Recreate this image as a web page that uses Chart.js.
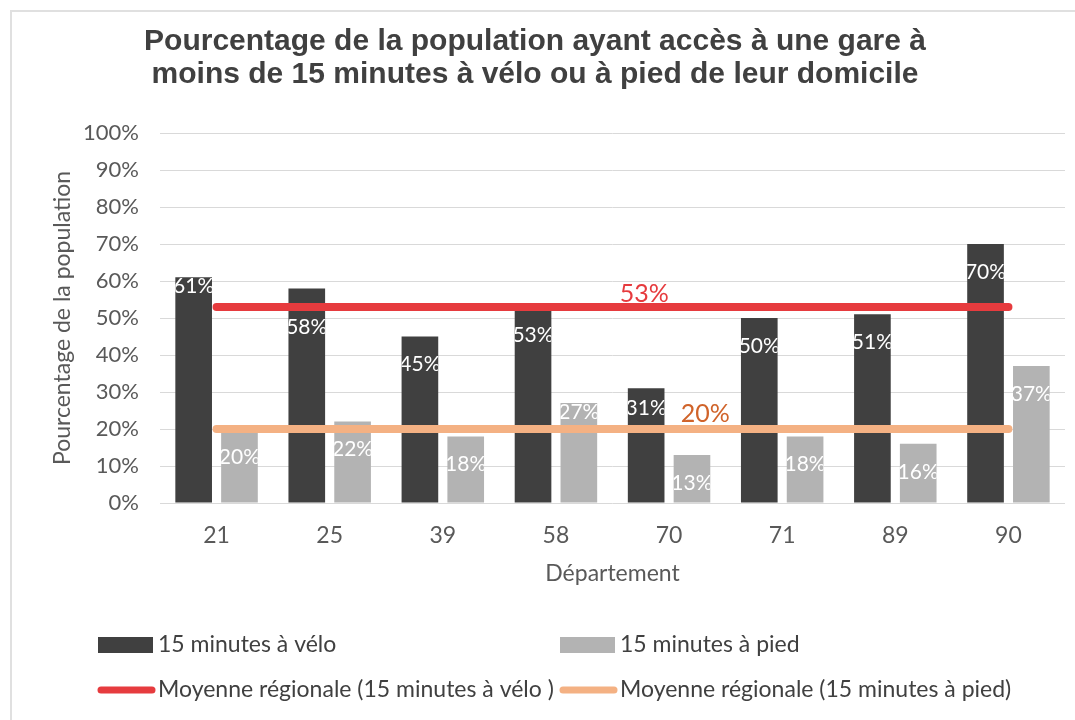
<!DOCTYPE html>
<html><head><meta charset="utf-8">
<script src="https://cdn.jsdelivr.net/npm/chart.js@4.4.1/dist/chart.umd.min.js"></script>
<style>html,body{margin:0;padding:0;background:#fff;} canvas{display:block;}</style>
</head><body>
<canvas id="c" width="1075" height="720"></canvas>
<script>
const categories = ['21', '25', '39', '58', '70', '71', '89', '90'];
const veloValues = [61, 58, 45, 53, 31, 50, 51, 70];
const piedValues = [20, 22, 18, 27, 13, 18, 16, 37];
const moyenneVelo = 53;
const moyennePied = 20;
const seriesNames = ['15 minutes à vélo', '15 minutes à pied', 'Moyenne régionale (15 minutes à vélo )', 'Moyenne régionale (15 minutes à pied)'];
const titleLines = ['Pourcentage de la population ayant accès à une gare à', 'moins de 15 minutes à vélo ou à pied de leur domicile'];
const yAxisTitle = 'Pourcentage de la population';
const xAxisTitle = 'Département';

const FONT = 'Lato, "Open Sans", sans-serif';
const C_DARK = '#404040', C_GREY = '#b3b3b3', C_RED = '#e63b3e', C_ORANGE = '#f4b183';

const framePlugin = {
  id: 'frame',
  beforeDraw(chart) {
    const ctx = chart.ctx;
    ctx.save();
    ctx.fillStyle = '#fff';
    ctx.fillRect(0, 0, chart.width, chart.height);
    ctx.strokeStyle = '#e0e0e0';
    ctx.lineWidth = 2;
    ctx.beginPath();
    ctx.moveTo(11, chart.height);
    ctx.lineTo(11, 11);
    ctx.lineTo(chart.width, 11);
    ctx.stroke();
    ctx.restore();
  }
};

const labelPlugin = {
  id: 'barLabels',
  afterDatasetsDraw(chart) {
    const ctx = chart.ctx;
    const y = chart.scales.y, x = chart.scales.x;
    const lineYs = [y.getPixelForValue(moyenneVelo), y.getPixelForValue(moyennePied)];
    ctx.save();
    ctx.font = '21px ' + FONT;
    ctx.fillStyle = '#ffffff';
    ctx.textAlign = 'center';
    ctx.textBaseline = 'middle';
    [0, 1].forEach(di => {
      const meta = chart.getDatasetMeta(di);
      const vals = chart.data.datasets[di].data;
      meta.data.forEach((el, i) => {
        let ly = el.y + 28;
        lineYs.forEach(L => {
          const d = ly - L;
          if (Math.abs(d) < 14) {
            if (d >= 0 && d <= 5) ly = L - 17;
            else if (d > 5) ly = L + 20;
            else ly = L - 21;
          }
        });
        ctx.save();
        ctx.beginPath();
        ctx.rect(el.x - el.width / 2, 0, el.width, chart.height);
        ctx.clip();
        ctx.fillText(vals[i] + '%', el.x, ly);
        ctx.restore();
      });
    });
    // average labels
    ctx.font = '25px ' + FONT;
    ctx.textBaseline = 'alphabetic';
    ctx.fillStyle = C_RED;
    ctx.fillText(moyenneVelo + '%', x.getPixelForValue(3.78), lineYs[0] - 5);
    ctx.fillStyle = '#d0632a';
    ctx.fillText(moyennePied + '%', x.getPixelForValue(4.32), lineYs[1] - 7);
    ctx.restore();
  }
};

const legendPlugin = {
  id: 'customLegend',
  afterDraw(chart) {
    const ctx = chart.ctx;
    ctx.save();
    ctx.font = '23px ' + FONT;
    ctx.textBaseline = 'middle';
    ctx.textAlign = 'left';
    const cols = [98, 560];
    const rows = [645, 690];
    const ds = chart.data.datasets;
    [[0, 0, 0], [1, 1, 0], [2, 0, 1], [3, 1, 1]].forEach(([di, c, r]) => {
      const x0 = cols[c], yy = rows[r];
      if (ds[di].type === 'line') {
        ctx.strokeStyle = ds[di].borderColor;
        ctx.lineWidth = 7;
        ctx.lineCap = 'round';
        ctx.beginPath();
        ctx.moveTo(x0 + 3, yy);
        ctx.lineTo(x0 + 54, yy);
        ctx.stroke();
      } else {
        ctx.fillStyle = ds[di].backgroundColor;
        ctx.fillRect(x0, yy - 8, 55, 16);
      }
      ctx.fillStyle = '#404040';
      ctx.fillText(ds[di].label, x0 + 60, yy);
    });
    ctx.restore();
  }
};

new Chart(document.getElementById('c'), {
  type: 'bar',
  data: {
    labels: categories,
    datasets: [
      { label: seriesNames[0], data: veloValues, backgroundColor: C_DARK, order: 2,
        categoryPercentage: 0.81, barPercentage: 0.8 },
      { label: seriesNames[1], data: piedValues, backgroundColor: C_GREY, order: 2,
        categoryPercentage: 0.81, barPercentage: 0.8 },
      { type: 'line', label: seriesNames[2], data: categories.map(() => moyenneVelo),
        borderColor: C_RED, backgroundColor: C_RED, borderWidth: 8, pointRadius: 0, order: 0, borderCapStyle: 'round' },
      { type: 'line', label: seriesNames[3], data: categories.map(() => moyennePied),
        borderColor: C_ORANGE, backgroundColor: C_ORANGE, borderWidth: 8, pointRadius: 0, order: 1, borderCapStyle: 'round' }
    ]
  },
  options: {
    responsive: false,
    animation: false,
    layout: { padding: { left: 5, right: 10, top: 0, bottom: 130 } },
    plugins: {
      legend: { display: false },
      tooltip: { enabled: false },
      title: {
        display: true,
        text: titleLines,
        color: '#404040',
        font: { family: '"Liberation Sans", Arial, sans-serif', size: 30, weight: 'bold', lineHeight: 1.1 },
        padding: { top: 25, bottom: 42 }
      }
    },
    scales: {
      x: {
        grid: { display: false },
        border: { display: false },
        ticks: { color: '#595959', font: { family: FONT, size: 23 }, padding: 11 },
        title: { display: true, text: xAxisTitle, color: '#595959', font: { family: FONT, size: 23 }, padding: { top: 0, bottom: 3 } },
        afterFit(s) { s.height = 87; }
      },
      y: {
        min: 0, max: 100,
        grid: { color: '#d9d9d9', lineWidth: 1, drawTicks: false },
        border: { display: false },
        ticks: { stepSize: 10, color: '#595959', font: { family: FONT, size: 22 }, padding: 21,
          callback: v => v + '%' },
        title: { display: true, text: yAxisTitle, color: '#595959', font: { family: FONT, size: 23 }, padding: { top: 44, bottom: 0 } },
        afterFit(s) { s.width = 155; }
      }
    }
  },
  plugins: [framePlugin, labelPlugin, legendPlugin]
});
</script>
</body></html>
